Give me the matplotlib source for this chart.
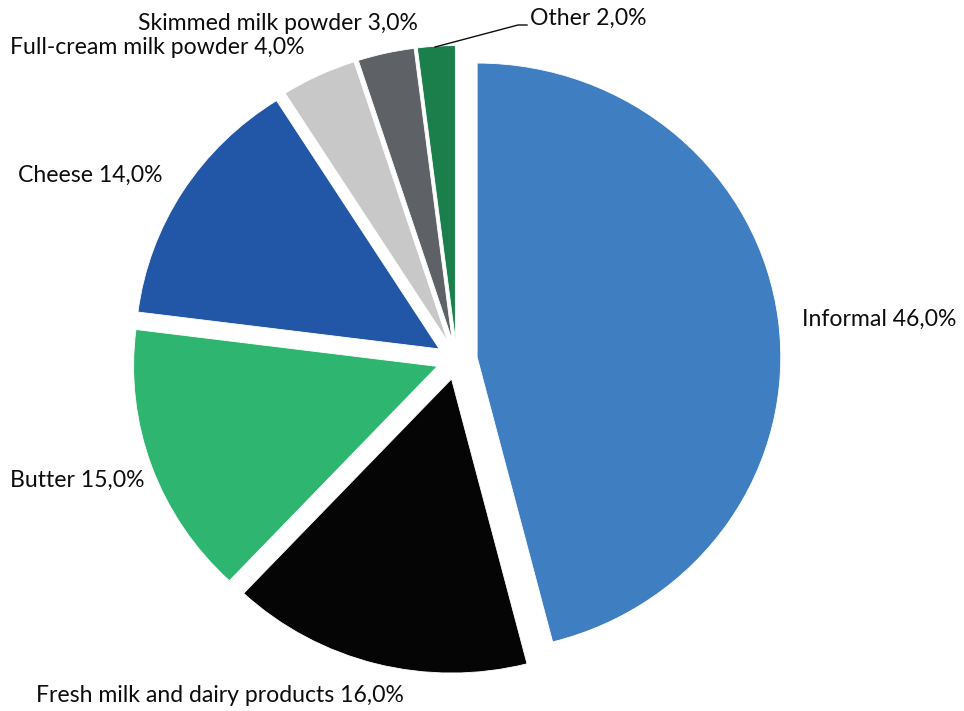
import matplotlib
matplotlib.use("Agg")
import matplotlib.pyplot as plt
from matplotlib.lines import Line2D

categories = ["Informal", "Fresh milk and dairy products", "Butter", "Cheese",
              "Full-cream milk powder", "Skimmed milk powder", "Other"]
values = [46.0, 16.0, 15.0, 14.0, 4.0, 3.0, 2.0]
colors = ["#3E7EC1", "#050505", "#2EB670", "#2157A6", "#C8C8C8", "#5E6266", "#1B7F4C"]

# label anchor positions in pixels (left edge, vertical centre)
label_px = [(802, 319), (36, 695), (10, 480), (18, 175), (10, 48), (138, 23), (530, 18)]

W, H = 964, 711
fig = plt.figure(figsize=(W / 100, H / 100), dpi=100)
ax = fig.add_axes([0, 0, 1, 1])
ax.pie(values, colors=colors, startangle=90, counterclock=False,
       explode=[0.068] * len(values), radius=1.0,
       wedgeprops=dict(linewidth=0.6, edgecolor="white"))
ax.set_aspect("auto")
ax.set_xlim(-1.504, 1.671)
ax.set_ylim(-1.195, 1.223)
ax.axis("off")

for cat, val, (px, py) in zip(categories, values, label_px):
    txt = f"{cat} {val:.1f}%".replace(".", ",")
    fig.text(px / W, 1 - py / H, txt, ha="left", va="center",
             fontsize=16.6, family="Lato", color="#0d0d0d")

# leader line for "Other"
lx = [435, 518, 527]
ly = [47, 25, 25]
fig.add_artist(Line2D([x / W for x in lx], [1 - y / H for y in ly],
                      transform=fig.transFigure, color="#0d0d0d", lw=1.0))

fig.savefig("out.png", dpi=100)
